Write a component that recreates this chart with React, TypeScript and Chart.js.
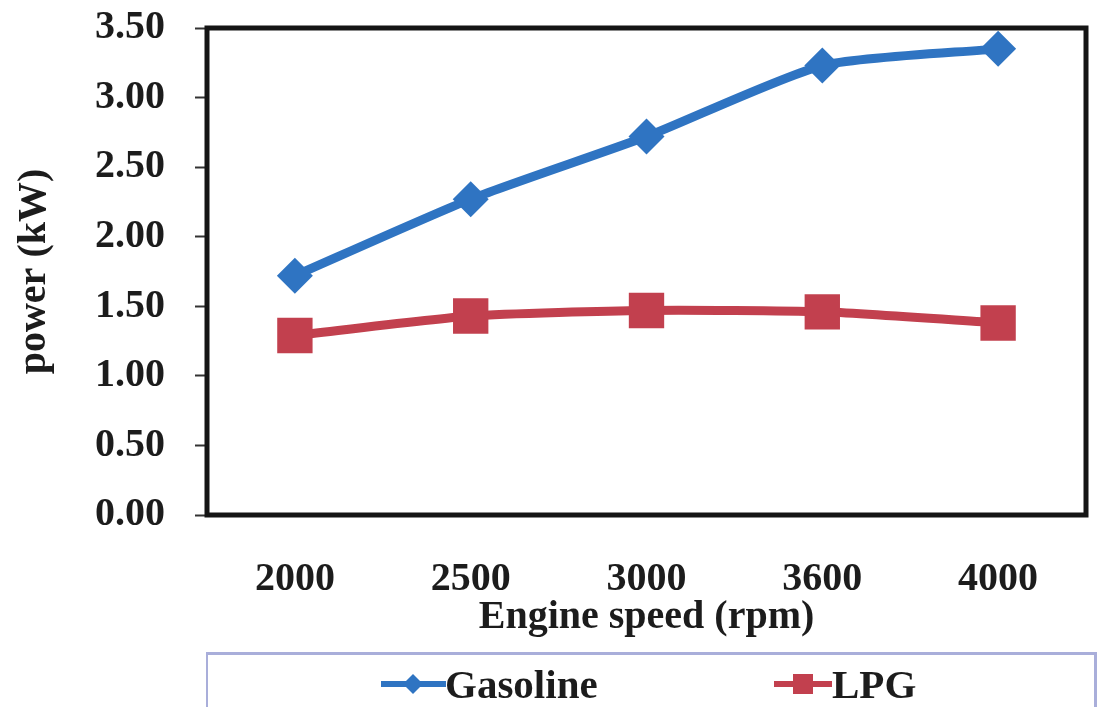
import React, { useEffect, useRef } from "react";
import { Chart, registerables } from "chart.js";

Chart.register(...registerables);

const speeds = ["2000", "2500", "3000", "3600", "4000"];
const gasoline = [1.72, 2.27, 2.72, 3.23, 3.35];
const lpg = [1.29, 1.43, 1.47, 1.46, 1.38];
const yTicks = [0, 0.5, 1, 1.5, 2, 2.5, 3, 3.5];

const SERIF = '"Liberation Serif", "Times New Roman", serif';
const BLUE = "#2F74C2";
const RED = "#C2404E";
const INK = "#1c1c1c";

const frame = {
  id: "frame",
  beforeDatasetsDraw(chart: any) {
    const { ctx, chartArea } = chart;
    ctx.save();
    ctx.strokeStyle = "#151515";
    ctx.lineWidth = 5;
    ctx.strokeRect(chartArea.left, chartArea.top, chartArea.right - chartArea.left, chartArea.bottom - chartArea.top);
    ctx.restore();
  },
};

function noPad(s: any) {
  s.paddingTop = 0;
  s.paddingBottom = 0;
  s.paddingLeft = 0;
  s.paddingRight = 0;
}

export default function App() {
  const ref = useRef<HTMLCanvasElement | null>(null);

  useEffect(() => {
    if (!ref.current) return;
    const chart = new Chart(ref.current, {
      type: "line",
      data: {
        labels: speeds,
        datasets: [
          {
            label: "Gasoline",
            data: gasoline,
            borderColor: BLUE,
            backgroundColor: BLUE,
            borderWidth: 9,
            pointStyle: "rectRot",
            pointRadius: 18,
            pointBorderWidth: 0,
            tension: 0.2,
          },
          {
            label: "LPG",
            data: lpg,
            borderColor: RED,
            backgroundColor: RED,
            borderWidth: 9,
            pointStyle: "rect",
            pointRadius: 25,
            pointBorderWidth: 0,
            tension: 0.2,
          },
        ],
      },
      options: {
        responsive: false,
        animation: false,
        layout: { autoPadding: false, padding: { top: 28, right: 15, bottom: 0, left: 0 } },
        plugins: { legend: { display: false }, tooltip: { enabled: false } },
        scales: {
          x: {
            type: "category",
            offset: true,
            grid: { display: false },
            border: { display: false },
            ticks: {
              padding: 33,
              color: INK,
              font: { family: SERIF, size: 40, weight: "bold" },
              maxRotation: 0,
            },
            title: {
              display: true,
              text: "Engine speed (rpm)",
              color: INK,
              font: { family: SERIF, size: 40, weight: "bold" },
              padding: { top: 0, bottom: 65 },
            },
            afterFit: (s: any) => {
              s.height = 192;
              noPad(s);
            },
          },
          y: {
            min: 0,
            max: 3.5,
            afterBuildTicks: (s: any) => {
              s.ticks = yTicks.map((v) => ({ value: v }));
            },
            grid: {
              drawOnChartArea: false,
              drawTicks: true,
              tickLength: 12,
              tickWidth: 2,
              tickColor: "#333",
            },
            border: { display: false },
            ticks: {
              padding: 30,
              color: INK,
              font: { family: SERIF, size: 40, weight: "bold" },
              callback: (v: any) => Number(v).toFixed(2),
            },
            title: {
              display: true,
              text: "power (kW)",
              color: INK,
              font: { family: SERIF, size: 40, weight: "bold" },
              padding: { top: 11, bottom: 0 },
            },
            afterFit: (s: any) => {
              s.width = 207;
              noPad(s);
            },
          },
        },
      },
      plugins: [frame],
    });
    return () => chart.destroy();
  }, []);

  const textStyle: React.CSSProperties = {
    position: "absolute",
    top: 0,
    fontFamily: SERIF,
    fontWeight: "bold",
    fontSize: 41,
    lineHeight: "58px",
    color: INK,
    whiteSpace: "nowrap",
  };

  return (
    <div style={{ position: "absolute", left: 0, top: 0, width: 1101, height: 707, overflow: "hidden", background: "#fff" }}>
      <canvas ref={ref} width={1101} height={707} style={{ position: "absolute", left: 0, top: 0 }} />
      <div
        style={{
          position: "absolute",
          left: 206,
          top: 652,
          width: 886,
          height: 60,
          borderTop: "3px solid #A9AEDA",
          borderLeft: "2px solid #A9AEDA",
          borderRight: "3px solid #A9AEDA",
        }}
      >
        <svg style={{ position: "absolute", left: 173, top: 14 }} width={65} height={30}>
          <line x1={0} y1={15} x2={65} y2={15} stroke={BLUE} strokeWidth={6} />
          <polygon points="32,5 42,15 32,25 22,15" fill={BLUE} />
        </svg>
        <span style={{ ...textStyle, left: 237 }}>Gasoline</span>
        <svg style={{ position: "absolute", left: 566, top: 14 }} width={58} height={30}>
          <line x1={0} y1={15} x2={58} y2={15} stroke={RED} strokeWidth={6} />
          <rect x={19} y={5} width={20} height={20} fill={RED} />
        </svg>
        <span style={{ ...textStyle, left: 624 }}>LPG</span>
      </div>
    </div>
  );
}
